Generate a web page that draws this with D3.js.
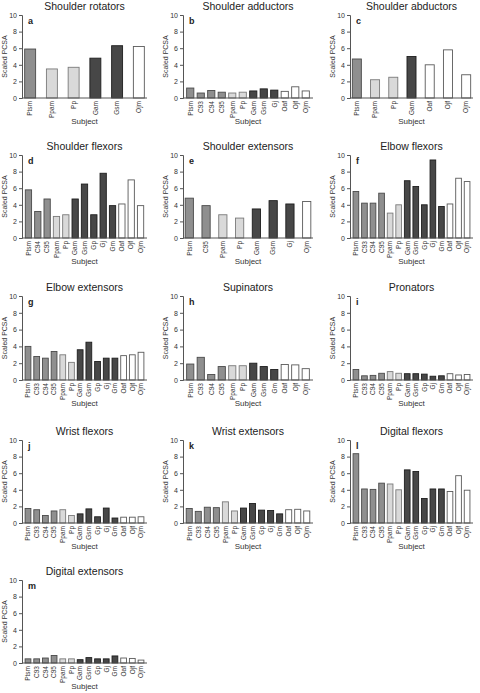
<!DOCTYPE html>
<html><head><meta charset="utf-8">
<script src="https://cdn.jsdelivr.net/npm/d3@7"></script>
<style>body{margin:0;background:#fff}svg{display:block;font-family:"Liberation Sans",Arial,sans-serif}</style>
</head><body><svg id="c" width="480" height="693"></svg>
<script>
const titles = ["Shoulder rotators","Shoulder adductors","Shoulder abductors","Shoulder flexors","Shoulder extensors","Elbow flexors","Elbow extensors","Supinators","Pronators","Wrist flexors","Wrist extensors","Digital flexors","Digital extensors"];
const letters = ["a","b","c","d","e","f","g","h","i","j","k","l","m"];
const yTicks = [0,2,4,6,8,10];
const allSubjects = ["Ptsm","C93","C94","C95","Ppam","Pp","Gam","Gsm","Gp","Gj","Gm","Oaf","Ojf","Ojm"];

const subjectsA = ["Ptsm","Ppam","Pp","Gam","Gsm","Ojm"];
const valuesA = [5.9,3.5,3.7,4.8,6.3,6.2];
const subjectsB = ["Ptsm","C93","C94","C95","Ppam","Pp","Gam","Gsm","Gj","Oaf","Ojf","Ojm"];
const valuesB = [1.2,0.6,0.9,0.7,0.6,0.7,0.85,1.1,0.95,0.8,1.35,0.85];
const subjectsC = ["Ptsm","Ppam","Pp","Gam","Oaf","Ojf","Ojm"];
const valuesC = [4.7,2.2,2.5,5.0,4.0,5.8,2.8];
const subjectsD = ["Ptsm","C94","C95","Ppam","Pp","Gam","Gsm","Gp","Gj","Gm","Oaf","Ojf","Ojm"];
const valuesD = [5.8,3.2,4.7,2.6,2.8,4.7,6.5,2.8,7.8,3.9,4.1,7.0,3.9];
const subjectsE = ["Ptsm","C95","Ppam","Pp","Gam","Gsm","Gj","Ojm"];
const valuesE = [4.8,3.9,2.8,2.4,3.5,4.5,4.1,4.4];
const subjectsF = allSubjects;
const valuesF = [5.6,4.2,4.2,5.4,3.0,4.0,6.9,6.2,4.0,9.4,3.8,4.1,7.2,6.8];
const subjectsG = allSubjects;
const valuesG = [4.0,2.8,2.6,3.4,3.0,2.1,3.6,4.5,2.2,2.6,2.6,2.9,3.0,3.3];
const subjectsH = ["Ptsm","C93","C94","C95","Ppam","Pp","Gam","Gsm","Gm","Oaf","Ojf","Ojm"];
const valuesH = [1.9,2.7,0.65,1.6,1.7,1.7,2.0,1.6,1.25,1.85,1.8,1.35];
const subjectsI = allSubjects;
const valuesI = [1.25,0.5,0.55,0.8,1.0,0.8,0.75,0.75,0.7,0.45,0.5,0.75,0.6,0.65];
const subjectsJ = allSubjects;
const valuesJ = [1.75,1.6,0.9,1.45,1.6,0.9,1.1,1.7,0.75,1.8,0.6,0.7,0.7,0.75];
const subjectsK = allSubjects;
const valuesK = [1.75,1.4,1.9,1.85,2.55,1.45,1.8,2.35,1.55,1.5,1.1,1.6,1.65,1.45];
const subjectsL = allSubjects;
const valuesL = [8.35,4.1,4.05,4.8,4.7,4.0,6.4,6.2,2.95,4.1,4.1,3.8,5.7,3.95];
const subjectsM = allSubjects;
const valuesM = [0.5,0.5,0.6,0.9,0.5,0.5,0.4,0.65,0.5,0.5,0.85,0.6,0.55,0.35];

const panelSubjects = [subjectsA,subjectsB,subjectsC,subjectsD,subjectsE,subjectsF,subjectsG,subjectsH,subjectsI,subjectsJ,subjectsK,subjectsL,subjectsM];
const panelValues = [valuesA,valuesB,valuesC,valuesD,valuesE,valuesF,valuesG,valuesH,valuesI,valuesJ,valuesK,valuesL,valuesM];

const colLeft = [22,183,350], colRight = [147,313,473];
const rowTop = [15,155,296,440,580], rowBottom = [98,238,380,523,663];

function group(s){
  if(s==="Ptsm"||s.startsWith("C9")) return "pt";
  if(s.startsWith("Pp")) return "pp";
  if(s.startsWith("G")) return "g";
  return "o";
}
const fills = {pt:"#8f8f8f",pp:"#d9d9d9",g:"#474747",o:"#ffffff"};
const strokes = {pt:"#4a4a4a",pp:"#7a7a7a",g:"#1e1e1e",o:"#5a5a5a"};

const svg = d3.select("#c");
titles.forEach((t,i)=>{
  const col = i%3, row = Math.floor(i/3);
  const x0 = colLeft[col], x1 = colRight[col], y0 = rowTop[row], y1 = rowBottom[row];
  const subs = panelSubjects[i], vals = panelValues[i];
  const n = subs.length;
  const x = d3.scaleBand().domain(subs).range([x0,x1]).paddingInner(n<=8?0.45:0.22).paddingOuter(n<=8?0.1:0.3);
  const y = d3.scaleLinear().domain([0,10]).range([y1,y0]);
  const g = svg.append("g");
  g.append("text").attr("x",(x0+x1)/2).attr("y",y0-5).attr("text-anchor","middle")
    .attr("font-size",10.5).attr("fill","#222").text(t);
  g.selectAll("rect").data(subs).join("rect")
    .attr("x",d=>x(d)+0.5).attr("width",x.bandwidth()-1)
    .attr("y",(d,j)=>y(vals[j])).attr("height",(d,j)=>y1-y(vals[j]))
    .attr("fill",d=>fills[group(d)]).attr("stroke",d=>strokes[group(d)]).attr("stroke-width",0.9);
  const ya = g.append("g").attr("transform",`translate(${x0},0)`)
    .call(d3.axisLeft(y).tickValues(yTicks).tickSize(3).tickPadding(2));
  ya.select(".domain").attr("stroke","#555");
  ya.selectAll(".tick line").attr("stroke","#555");
  ya.selectAll("text").attr("font-size",7).attr("fill","#333").attr("font-family","Liberation Sans, Arial, sans-serif");
  const xa = g.append("g").attr("transform",`translate(0,${y1})`)
    .call(d3.axisBottom(x).tickSize(0).tickPadding(0).tickSizeOuter(0));
  xa.select(".domain").attr("stroke","#555").attr("d",`M${x0},0H${x1}`);
  xa.selectAll("text").attr("font-size",6.5).attr("fill","#333").attr("font-family","Liberation Sans, Arial, sans-serif")
    .attr("text-anchor","end").attr("dy","0.35em").attr("transform","translate(0,3) rotate(-90)").attr("y",0).attr("x",0);
  g.append("text").attr("x",x0+6).attr("y",y0+9).attr("font-size",9).attr("font-weight","bold").attr("fill","#222").text(letters[i]);
  g.append("text").attr("transform",`translate(${x0-15},${(y0+y1)/2}) rotate(-90)`).attr("text-anchor","middle")
    .attr("font-size",7).attr("fill","#333").text("Scaled PCSA");
  g.append("text").attr("x",(x0+x1)/2).attr("y",y1+26).attr("text-anchor","middle")
    .attr("font-size",8).attr("fill","#333").text("Subject");
});
</script></body></html>
